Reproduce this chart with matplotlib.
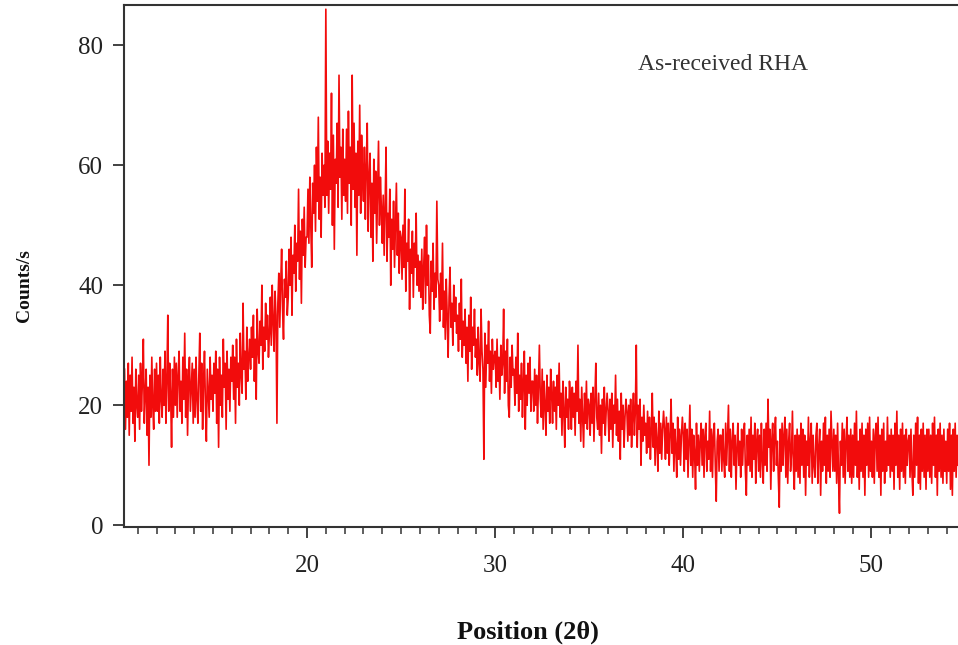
import numpy as np
import matplotlib
matplotlib.use("Agg")
import matplotlib.pyplot as plt
from matplotlib.ticker import MultipleLocator

# XRD scan of as-received rice husk ash: 2-theta from 10.3 deg, 0.05 deg step
scan_start = 10.3
scan_step = 0.05

counts = [
    # 10.30 - 10.95
    26, 16, 24, 18, 27, 15, 25, 19, 28, 17, 23, 14, 26, 20,
    # 11
    18, 25, 16, 27, 19, 24, 31, 17, 22, 26, 15, 23, 10, 25, 18, 28, 20, 16, 26, 19,
    # 12
    27, 19, 25, 17, 28, 21, 18, 26, 20, 29, 17, 24, 35, 19, 27, 22, 13, 26, 18, 28,
    # 13
    20, 27, 18, 25, 29, 19, 24, 17, 28, 21, 32, 18, 26, 15, 24, 28, 19, 23, 27, 17,
    # 14
    26, 18, 28, 21, 17, 25, 32, 19, 27, 16, 24, 29, 20, 14, 26, 22, 18, 28, 21, 25,
    # 15
    19, 27, 22, 29, 17, 26, 13, 28, 20, 25, 18, 31, 23, 27, 16, 29, 21, 26, 19, 28,
    # 16
    24, 30, 21, 28, 17, 31, 23, 27, 20, 32, 25, 22, 37, 26, 29, 21, 33, 24, 28, 31,
    # 17
    26, 33, 28, 35, 24, 31, 21, 36, 29, 27, 34, 30, 40, 26, 33, 29, 37, 31, 35, 28,
    # 18
    32, 38, 30, 40, 34, 29, 39, 35, 17, 37, 42, 33, 40, 46, 36, 31, 41, 38, 44, 35,
    # 19
    38, 46, 40, 48, 35, 45, 42, 50, 39, 47, 44, 56, 41, 49, 37, 51, 45, 53, 43, 48,
    # 20
    48, 56, 47, 58, 50, 43, 57, 52, 60, 49, 63, 54, 68, 51, 58, 48, 62, 55, 60, 53,
    # 21
    86, 55, 64, 52, 62, 56, 72, 50, 65, 46, 61, 57, 67, 53, 75, 58, 63, 51, 66, 55,
    # 22
    61, 54, 66, 52, 69, 57, 63, 50, 75, 56, 67, 53, 62, 45, 64, 55, 70, 52, 65, 58,
    # 23
    54, 63, 51, 60, 67, 49, 58, 62, 48, 57, 44, 61, 52, 59, 47, 56, 64, 50, 58, 53,
    # 24
    47, 55, 45, 53, 63, 44, 52, 48, 56, 40, 51, 46, 54, 43, 50, 57, 45, 52, 42, 49,
    # 25
    48, 41, 50, 43, 56, 39, 47, 44, 51, 36, 46, 42, 49, 38, 47, 43, 52, 40, 45, 39,
    # 26
    44, 38, 46, 36, 43, 48, 37, 50, 40, 45, 35, 32, 44, 39, 47, 36, 42, 38, 54, 41,
    # 27
    40, 34, 42, 36, 47, 33, 39, 31, 41, 35, 28, 38, 43, 33, 37, 30, 40, 34, 38, 32,
    # 28
    35, 29, 37, 31, 41, 28, 34, 30, 36, 27, 33, 24, 35, 29, 38, 26, 33, 30, 36, 28,
    # 29
    31, 25, 33, 27, 24, 36, 29, 26, 11, 32, 23, 30, 27, 34, 24, 29, 22, 31, 26, 28,
    # 30
    29, 23, 31, 24, 28, 21, 30, 25, 27, 36, 22, 29, 24, 31, 20, 18, 28, 23, 30, 25,
    # 31
    26, 20, 28, 22, 32, 19, 25, 21, 27, 18, 24, 29, 16, 25, 20, 27, 22, 28, 19, 24,
    # 32
    24, 19, 26, 20, 25, 17, 23, 30, 21, 18, 26, 16, 24, 20, 15, 25, 19, 23, 17, 26,
    # 33
    22, 17, 24, 19, 23, 16, 25, 20, 27, 18, 22, 15, 24, 19, 13, 23, 18, 21, 16, 24,
    # 34
    21, 16, 23, 18, 22, 15, 24, 19, 30, 17, 21, 14, 23, 18, 13, 22, 17, 24, 16, 21,
    # 35
    20, 15, 22, 17, 23, 14, 21, 27, 18, 16, 22, 15, 20, 12, 21, 17, 23, 15, 19, 22,
    # 36
    19, 14, 21, 16, 22, 13, 20, 17, 25, 15, 21, 14, 19, 11, 22, 16, 20, 13, 18, 21,
    # 37
    19, 14, 20, 15, 21, 13, 18, 22, 15, 19, 30, 13, 20, 16, 21, 10, 18, 14, 20, 15,
    # 38
    17, 12, 19, 13, 18, 11, 16, 22, 13, 18, 10, 17, 14, 9, 19, 12, 17, 11, 16, 19,
    # 39
    16, 11, 18, 12, 17, 10, 15, 21, 12, 17, 9, 16, 13, 8, 18, 11, 16, 10, 15, 18,
    # 40
    15, 9, 17, 11, 16, 8, 14, 20, 10, 16, 8, 15, 12, 6, 17, 10, 15, 9, 14, 17,
    # 41
    10, 16, 8, 15, 17, 9, 14, 11, 19, 9, 16, 8, 15, 17, 10, 4, 14, 16, 9, 15,
    # 42
    15, 9, 16, 11, 8, 17, 10, 15, 20, 9, 16, 8, 14, 17, 10, 15, 6, 13, 17, 10,
    # 43
    14, 8, 16, 10, 15, 17, 9, 5, 15, 10, 16, 9, 18, 8, 15, 11, 17, 7, 14, 16,
    # 44
    9, 15, 8, 17, 11, 7, 16, 10, 17, 9, 21, 13, 16, 6, 14, 17, 9, 15, 18, 10,
    # 45
    14, 8, 3, 16, 9, 17, 10, 15, 18, 8, 16, 7, 14, 17, 9, 12, 19, 10, 6, 15,
    # 46
    9, 16, 8, 15, 7, 17, 10, 16, 8, 15, 5, 14, 10, 18, 8, 14, 17, 7, 15, 10,
    # 47
    8, 15, 17, 7, 13, 16, 5, 14, 9, 17, 10, 18, 7, 15, 9, 16, 8, 19, 14, 9,
    # 48
    16, 9, 15, 7, 17, 8, 2, 14, 10, 17, 8, 16, 7, 14, 18, 9, 15, 8, 16, 7,
    # 49
    15, 8, 17, 10, 19, 8, 14, 6, 16, 9, 17, 8, 15, 5, 16, 10, 17, 8, 18, 9,
    # 50
    14, 8, 16, 7, 15, 17, 9, 18, 8, 15, 5, 16, 9, 17, 7, 14, 9, 18, 10, 15,
    # 51
    8, 16, 9, 15, 6, 17, 10, 19, 8, 15, 6, 16, 9, 17, 8, 15, 7, 16, 10, 14,
    # 52
    15, 8, 16, 9, 5, 15, 8, 17, 10, 18, 7, 15, 6, 16, 9, 17, 8, 15, 6, 16,
    # 53
    9, 16, 8, 15, 7, 17, 10, 18, 8, 15, 5, 16, 9, 17, 8, 15, 7, 16, 9, 14,
    # 54.00 - 54.60
    7, 16, 9, 17, 6, 15, 5, 16, 9, 17, 8, 15, 10,
]

two_theta = scan_start + scan_step * np.arange(len(counts))

x_ticks = [20, 30, 40, 50]
y_ticks = [0, 20, 40, 60, 80]
sample_label = "As-received RHA"

plt.rcParams["font.family"] = ["Liberation Serif", "DejaVu Serif"]

fig = plt.figure(figsize=(9.58, 6.45), dpi=100)
ax = fig.add_axes([0.1294, 0.1829, 0.8706, 0.8093])

ax.plot(two_theta, counts, color="#f20c0c", linewidth=1.2)

ax.set_xlim(10.27, 54.6)
ax.set_ylim(-0.3, 86.7)

ax.set_xticks(x_ticks)
ax.set_yticks(y_ticks)
ax.xaxis.set_minor_locator(MultipleLocator(1))

ax.tick_params(axis="x", which="major", direction="out", length=8, width=1.3,
               colors="#333333", labelsize=18, pad=12, labelcolor="#222222")
ax.tick_params(axis="x", which="minor", direction="out", length=5, width=1.1,
               colors="#333333")
ax.tick_params(axis="y", which="major", direction="out", length=8, width=1.3,
               colors="#333333", labelsize=18, pad=7, labelcolor="#222222")

for side in ("left", "bottom", "top"):
    ax.spines[side].set_color("#333333")
    ax.spines[side].set_linewidth(1.5)
ax.spines["right"].set_visible(False)

ax.text(42.1, 76.8, sample_label, fontsize=17, color="#333333",
        ha="center", va="center")

fig.text(0.026, 0.558, "Counts/s", rotation=90, fontsize=14,
         fontweight="bold", ha="center", va="center", color="#111111")
fig.text(0.551, 0.02, "Position (2θ)", fontsize=19, fontweight="bold",
         ha="center", va="center", color="#111111")

fig.savefig("out.png", dpi=100)
